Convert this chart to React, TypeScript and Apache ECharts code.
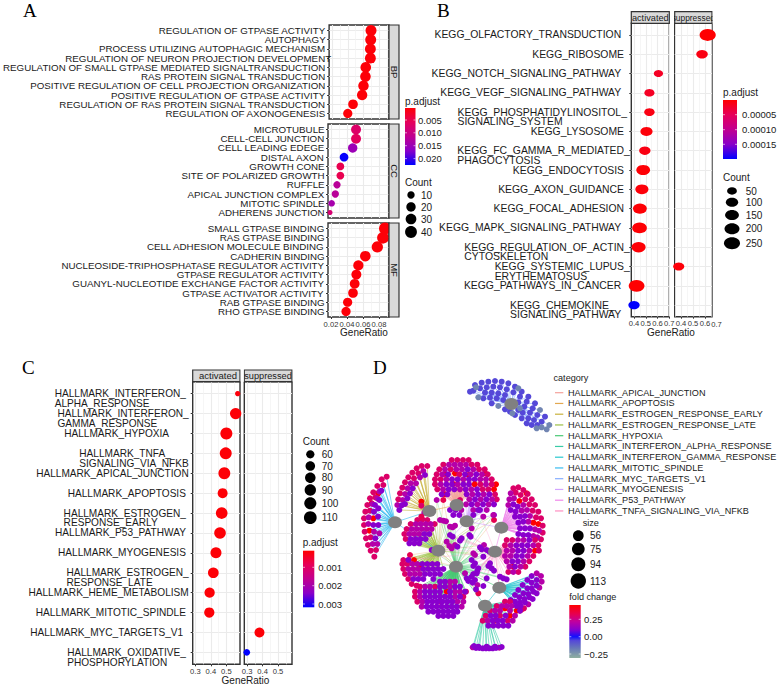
import React, { useEffect, useRef } from "react";
import * as echarts from "echarts";

// ---------- Panel A ----------
const aBpTerms = ["REGULATION OF GTPASE ACTIVITY  ","AUTOPHAGY  ","PROCESS UTILIZING AUTOPHAGIC MECHANISM  ","REGULATION OF NEURON PROJECTION DEVELOPMENT","REGULATION OF SMALL GTPASE MEDIATED SIGNALTRANSDUCTION  ","RAS PROTEIN SIGNAL TRANSDUCTION  ","POSITIVE REGULATION OF CELL PROJECTION ORGANIZATION  ","POSITIVE REGULATION OF GTPASE ACTIVITY  ","REGULATION OF RAS PROTEIN SIGNAL TRANSDUCTION  ","REGULATION OF AXONOGENESIS  "];
const aBpRatio = [0.0696,0.0692,0.0688,0.0688,0.0629,0.0625,0.06,0.0583,0.0467,0.04];
const aBpCount = [32,32,31,31,29,29,28,27,22,19];
const aBpPadj = [0.0005,0.0005,0.0005,0.0005,0.0005,0.0005,0.0005,0.0005,0.0005,0.0005];
const aCcTerms = ["MICROTUBULE  ","CELL-CELL JUNCTION  ","CELL LEADING EDEGE  ","DISTAL AXON  ","GROWTH CONE  ","SITE OF POLARIZED GROWTH  ","RUFFLE  ","APICAL JUNCTION COMPLEX  ","MITOTIC SPINDLE  ","ADHERENS JUNCTION  "];
const aCcRatio = [0.0513,0.0513,0.0471,0.0363,0.0317,0.0317,0.0275,0.0254,0.0208,0.0188];
const aCcCount = [24,24,20,16,12,12,10,10,8,6];
const aCcPadj = [0.007,0.006,0.015,0.0222,0.005,0.005,0.012,0.012,0.014,0.008];
const aMfTerms = ["SMALL GTPASE BINDING  ","RAS GTPASE BINDING  ","CELL ADHESION MOLECULE BINDING  ","CADHERIN BINDING  ","NUCLEOSIDE-TRIPHOSPHATASE REGULATOR ACTIVITY  ","GTPASE REGULATOR ACTIVITY  ","GUANYL-NUCLEOTIDE EXCHANGE FACTOR ACTIVITY  ","GTPASE ACTIVATOR ACTIVITY  ","RAB GTPASE BINDING  ","RHO GTPASE BINDING  "];
const aMfRatio = [0.0875,0.085,0.0779,0.0629,0.0542,0.0517,0.0496,0.0475,0.0408,0.0388];
const aMfCount = [42,40,35,29,26,24,23,22,19,19];
const aMfPadj = [0.0005,0.0005,0.0005,0.0005,0.0005,0.0005,0.0005,0.0005,0.0005,0.0005];

// ---------- Panel B ----------
const bTerms = ["KEGG_OLFACTORY_TRANSDUCTION   ","KEGG_RIBOSOME  ","KEGG_NOTCH_SIGNALING_PATHWAY   ","KEGG_VEGF_SIGNALING_PATHWAY   ","KEGG_PHOSPHATIDYLINOSITOL_ \nSIGNALING_SYSTEM","KEGG_LYSOSOME  ","KEGG_FC_GAMMA_R_MEDIATED_\nPHAGOCYTOSIS","KEGG_ENDOCYTOSIS  ","KEGG_AXON_GUIDANCE  ","KEGG_FOCAL_ADHESION  ","KEGG_MAPK_SIGNALING_PATHWAY   ","KEGG_REGULATION_OF_ACTIN_\nCYTOSKELETON","KEGG_SYSTEMIC_LUPUS_\nERYTHEMATOSUS","KEGG_PATHWAYS_IN_CANCER   ","KEGG_CHEMOKINE_\nSIGNALING_PATHWAY   "];
const bActivatedRows = [2,3,4,5,6,7,8,9,10,11,13,14];
const bActivatedRatio = [0.608,0.531,0.531,0.506,0.492,0.478,0.467,0.45,0.447,0.439,0.422,0.4];
const bActivatedCount = [45,55,60,95,75,150,125,150,185,160,240,75];
const bActivatedPadj = [0.00002,0.00002,0.00001,0.000005,0.00001,0.000003,0.000005,0.000003,0.000002,0.000003,0.000001,0.0002];
const bSuppressedRows = [0,1,12];
const bSuppressedRatio = [0.622,0.575,0.381];
const bSuppressedCount = [260,80,70];
const bSuppressedPadj = [0.000001,0.00001,0.000005];

// ---------- Panel C ----------
const cTerms = ["HALLMARK_INTERFERON_ \nALPHA_RESPONSE","HALLMARK_INTERFERON_\nGAMMA_RESPONSE","HALLMARK_HYPOXIA       ","HALLMARK_TNFA_\nSIGNALING_VIA_NFKB","HALLMARK_APICAL_JUNCTION","HALLMARK_APOPTOSIS ","HALLMARK_ESTROGEN_ \nRESPONSE_EARLY","HALLMARK_P53_PATHWAY ","HALLMARK_MYOGENESIS ","HALLMARK_ESTROGEN_\nRESPONSE_LATE","HALLMARK_HEME_METABOLISM","HALLMARK_MITOTIC_SPINDLE ","HALLMARK_MYC_TARGETS_V1  ","HALLMARK_OXIDATIVE_ \nPHOSPHORYLATION"];
const cActivatedRows = [0,1,2,3,4,5,6,7,8,9,10,11];
const cActivatedRatio = [0.573,0.56,0.5,0.496,0.487,0.476,0.47,0.459,0.433,0.416,0.392,0.39];
const cActivatedCount = [50,90,100,99,98,74,95,94,86,82,77,77];
const cActivatedPadj = [0.0001,0.00005,0.00005,0.00005,0.00005,0.00005,0.00005,0.00005,0.00005,0.00005,0.00005,0.00005];
const cSuppressedRows = [12,13];
const cSuppressedRatio = [0.38,0.298];
const cSuppressedCount = [74,52];
const cSuppressedPadj = [0.00005,0.00318];

// ---------- Panel D: network, layout coordinates ----------
const dCategories = ["HALLMARK_APICAL_JUNCTION","HALLMARK_APOPTOSIS","HALLMARK_ESTROGEN_RESPONSE_EARLY","HALLMARK_ESTROGEN_RESPONSE_LATE","HALLMARK_HYPOXIA","HALLMARK_INTERFERON_ALPHA_RESPONSE","HALLMARK_INTERFERON_GAMMA_RESPONSE","HALLMARK_MITOTIC_SPINDLE","HALLMARK_MYC_TARGETS_V1","HALLMARK_MYOGENESIS","HALLMARK_P53_PATHWAY","HALLMARK_TNFA_SIGNALING_VIA_NFKB"];
const dCategoryColors = ["#f4a29b","#e2a850","#c8b23c","#9cc044","#48c873","#38cba6","#28c8cf","#38bcf0","#85adff","#d2a4ff","#f088ea","#ff8fc2"];
const bandFc = [0.42,0.27,0.18,0.1];

const mycHub = [514,132];
const mycMain = [390,95,405,75,425,68,445,65,465,63,485,65,505,70,525,80,545,95,565,110,585,130,400,92,420,85,440,82,460,80,480,82,500,88,520,97,540,110,560,125,578,145,592,165,605,185,435,98,455,98,475,100,495,105,535,127,553,140,570,158,582,180,592,195,430,115,450,113,470,115,490,120,548,158,565,175,575,195,455,130,495,148,510,155,535,150,545,175,560,190,525,165,615,170];
const mycGrey = [408,82,415,112,475,138,517,160,535,85,600,150,628,195,620,208,605,202,540,145,590,205];

const mitoticHub = [165,487];
const mitoticNodes = [
  [115,400,95,430,100,475,88,512],
  [140,350,125,358,112,378,100,397,90,415,82,435,76,455,72,475,72,495,74,515,78,535,84,555,92,572,103,590,130,375,106,412,90,452,92,532,108,570],
  [118,395,97,432,86,472,85,492,98,552,112,552,102,515,112,415,118,520],
  [105,435,102,455,100,495,106,535,115,445,114,470,115,495,124,392,118,420],
];
const earlyHub = [268,453];
const earlyNodes = [
  [244,425],
  [262,318,245,318,230,325,217,338,205,352,195,367,187,383,180,400,175,418,235,340,222,355,244,437],
  [250,333,212,370,203,385,195,402,188,420,172,435,240,352,228,370,253,458],
  [178,450,185,436,255,345,218,385,210,400,202,415,195,432],
];
const lateHub = [295,572];
const lateNodes = [
  [240,622,222,600],
  [232,480,247,478,262,480,212,492,200,507,193,522,197,537,284,492,190,600,205,600,187,612,202,612,190,627,195,642,205,657,215,672,230,677],
  [227,492,242,492,257,492,272,492,215,507,230,507,245,507,260,507,275,507,208,522,223,522,238,522,217,612,232,612,205,627,220,627,235,627,210,642,225,642,240,642],
  [253,522,268,522,212,537,227,537,242,537,257,537,208,550,223,550,238,550,247,612,262,612,277,612,292,612,250,627,265,627,280,627,295,627,310,627,255,642,270,642,285,642,300,642,220,657,235,657,250,657,280,657],
];
const hypoxiaHub = [348,620];
const hypoxiaNodes = [
  [320,695],
  [240,680,225,695,225,710,232,725,370,710,285,680,300,725,378,695],
  [255,680,270,680,345,665,330,665,240,695,345,695,360,695,240,710,345,710,247,725,352,725,370,725,245,740,365,740,330,680],
  [300,665,315,665,300,680,315,680,345,680,360,680,255,695,270,695,285,695,300,695,330,695,375,695,255,710,270,710,285,710,300,710,315,710,330,710,360,710,262,725,277,725,292,725,307,725,322,725,337,725,260,740,275,740,290,740,305,740,320,740,335,740,350,740,265,755,280,755,295,755,310,755,325,755,340,755,352,755,295,768,310,768,325,768,340,768],
];
const apicalHub = [350,435];
const apicalNodes = [
  [315,342,345,340,385,345,435,340,340,372,315,403],
  [335,300,352,300,369,300,386,300,310,314,395,314,412,314,298,328,417,328,434,328,290,343,443,343,285,358,455,358,285,373,292,388,332,328,358,343,302,358],
  [327,314,344,314,361,314,378,314,315,328,349,328,366,328,400,328,307,343,392,343,426,343,319,358,370,358,421,358,438,358,302,373,353,373,309,388,360,388],
  [383,328,324,343,375,343,409,343,336,358,353,358,387,358,404,358,319,373,336,373,370,373,387,373,326,388,343,388,377,388,305,403,322,403,380,403],
];
const myoHub = [380,484];
const myoNodes = [
  [468,373,462,388,404,373],
  [421,373,455,373,445,388,465,403,470,418,360,420,428,388],
  [438,373,394,388,397,403,431,403,388,418,422,418,456,418,378,433,412,433,446,433,364,450,400,450,440,450],
  [411,388,414,403,448,403,405,418,439,418,395,433,429,433,462,433,347,450,330,450,420,450,340,465,358,465,400,465,462,465],
];
const p53Hub = [484,503];
const p53Nodes = [
  [538,423,580,488,560,400,595,492],
  [520,385,535,382,550,390,563,402,575,418,585,435,595,455,603,475,608,497,608,518,603,538,527,398,542,405,556,418,568,433,578,452,588,472],
  [512,400,597,512,592,532,508,418,522,415,550,435,561,450,570,468,585,508,580,528,505,435,545,452,565,485],
  [520,433,533,440,555,468,570,505,565,525,512,450,527,455,540,470,550,485,555,505,550,525,525,470,535,488,540,505,535,522],
];
const tnfaHub = [465,575];
const tnfaNodes = [
  [585,572,520,620],
  [500,540,517,540,585,540,595,556,597,572,580,588,568,604,556,620,535,636,495,556,505,636],
  [534,540,551,540,512,556,580,556,500,572,517,572,568,572,495,588,512,588,563,588,500,604,551,604,508,620,542,620,520,636],
  [568,540,529,556,546,556,563,556,534,572,551,572,529,588,546,588,517,604,534,604,525,620],
];
const gammaHub = [478,683];
const gammaNodes = [
  [545,748],
  [540,752,552,745],
  [590,640,603,648,605,665,598,683,565,733],
  [590,700,578,717,575,648,590,660,590,677,580,695,568,712,555,727,542,738,562,660,575,668,575,685,565,702,553,717,540,728,548,675,562,685,550,700,538,712,525,725,535,690,525,705,512,720],
];
const alphaHub = [435,737];
const alphaNodes = [
  [495,745,510,767,465,782,530,752],
  [495,725,510,725,470,738,428,782,437,767,450,752,480,767,503,782],
  [485,738,500,738,515,738,465,752,480,752,510,752,525,767,443,782,518,782,398,862,478,863],
  [530,738,540,752,452,767,467,767,497,767,458,782,473,782,488,782,445,797,460,797,475,797,490,797,505,797,408,864,418,864,428,865,438,865,448,865,458,865,468,864,485,861,402,858,415,860,440,860,465,860],
];
const centerOrange = [244,470,310,420,462,480,415,700,210,585];
const centerGreen = [300,480,310,482,290,420,330,500,345,497,345,555,335,565,395,505,430,470,460,465,400,580,432,555,412,675,375,640,320,545,318,484,338,502,328,558,405,585];
const centerPink = [330,525,352,560,365,535,388,525,415,450,395,600,420,562,440,570,430,590,405,610,415,625,410,640,395,650,405,660,430,678,380,655,455,625,450,610,490,655,480,650,440,655,275,570,205,600,400,618,412,632,400,642,398,668,408,688,385,663,462,632,445,618,500,658,338,530,360,542,425,568,448,575,392,530];

const sizeLegendD = [56,75,94,113];
const sizeLegendDiam = [10.7,12.7,14,15.3];

// ---------- Legends ----------
const aCountLegend = [10,20,30,40];
const bCountLegend = [50,100,150,200,250];
const cCountLegend = [60,70,80,90,100,110];

const ink = "#1a1a1a";
const sans = "'Liberation Sans', Arimo, Helvetica, Arial, sans-serif";
const rampStops = [[0,[255,0,0]],[0.25,[230,0,90]],[0.5,[193,0,144]],[0.75,[138,0,200]],[1,[0,0,255]]] as [number,number[]][];
const mix = (stops:[number,number[]][], t:number) => {
  const u = Math.max(stops[0][0], Math.min(stops[stops.length-1][0], t));
  for (let i=1;i<stops.length;i++) {
    if (u<=stops[i][0]) {
      const f=(u-stops[i-1][0])/(stops[i][0]-stops[i-1][0]);
      const a=stops[i-1][1], b=stops[i][1];
      return `rgb(${a.map((v,k)=>Math.round(v+(b[k]-v)*f)).join(",")})`;
    }
  }
  return "#000";
};
const fcStops = [[-0.28,[143,176,160]],[-0.15,[104,120,184]],[-0.05,[85,72,216]],[0,[16,16,255]],[0.1,[138,0,205]],[0.2,[192,0,160]],[0.3,[230,0,80]],[0.42,[255,0,0]]] as [number,number[]][];
const fcColor = (v:number)=>mix(fcStops,v);
const sizeScale = (cmin:number,cmax:number,dmin:number,dmax:number)=>(c:number)=>dmin+(dmax-dmin)*Math.sqrt(Math.max(0,(c-cmin)/(cmax-cmin)));

function App() {
  const ref = useRef<HTMLDivElement>(null);
  useEffect(() => {
    document.body.style.margin = "0";
    const chart = echarts.init(ref.current!, undefined, { renderer: "svg" });
    const grids:any[]=[], xAxes:any[]=[], yAxes:any[]=[], series:any[]=[], gfx:any[]=[];

    const addPanel = (p:any) => {
      const gi = grids.length;
      grids.push({ left:p.l, top:p.t, width:p.r-p.l, height:p.b-p.t, show:true, backgroundColor:"#fff", borderColor:"#333", borderWidth:1.4, containLabel:false });
      const labelFn = (v:number)=>v.toFixed(p.dec);
      const showX = p.showX!==false;
      const mainIdx = xAxes.length;
      xAxes.push({ gridIndex:gi, type:"value", min:p.xmin, max:p.xmax, position:"bottom",
        axisLine:{show:false,onZero:false}, axisTick:{show:showX,length:2,lineStyle:{color:"#333",width:1},customValues:p.major},
        axisLabel:{show:showX,customValues:p.major,formatter:labelFn,fontFamily:sans,fontSize:7.6,color:"#333",margin:3,hideOverlap:false,showMinLabel:true,showMaxLabel:true},
        splitLine:{show:true,lineStyle:{color:"#ebebeb",width:1.1}} });
      xAxes.push({ gridIndex:gi, type:"value", min:p.xmin, max:p.xmax, position:"top",
        axisLine:{show:false,onZero:false}, axisTick:{show:false,customValues:p.minor}, axisLabel:{show:false},
        splitLine:{show:true,lineStyle:{color:"#f2f2f2",width:0.7}} });
      const n=p.n;
      const fs=p.fontSize;
      const lh=p.lineH;
      const rowsAll=Array.from({length:n},(_,i)=>i);
      // Two empty placeholder labels at each end keep the axis's min/max overlap check off the real rows.
      const labelValues=[-0.58,-0.56,...rowsAll,n-0.44,n-0.42];
      yAxes.push({ gridIndex:gi, type:"value", inverse:true, min:-0.6, max:n-0.4,
        axisLine:{show:false,onZero:false},
        axisTick:{show:!!p.terms,length:2,lineStyle:{color:"#333"},customValues:rowsAll},
        axisLabel:{show:!!p.terms,customValues:labelValues,margin:p.margin,align:"right",verticalAlign:"middle",hideOverlap:false,
          fontFamily:sans,fontSize:fs,lineHeight:lh,color:ink,
          rich:{l:{align:"left",fontFamily:sans,fontSize:fs,lineHeight:lh,color:ink}},
          formatter:(v:number)=>{
            if(!Number.isInteger(v)) return " ";
            const t=String(p.terms?.[v]??"");
            const lines=t.split("\n");
            if(lines.length===1) return `{l|${t}}`;
            return ["\u00a0",...lines].map(s=>`{l|${s}}`).join("\n");
          }},
        splitLine:{show:true,lineStyle:{color:"#ebebeb",width:1.1}} });
      const size=p.size;
      series.push({ type:"scatter", xAxisIndex:mainIdx, yAxisIndex:gi, clip:true, z:3,
        data:p.rows.map((r:number,i:number)=>[p.ratio[i],r,p.padj[i],p.count[i]]),
        symbol:"circle",
        symbolSize:(val:number[])=>{const d=size(val[3]);return p.stretch?[d*p.stretch,d]:d;},
        itemStyle:{color:(q:any)=>mix(rampStops,q.value[2]/p.padjMax),opacity:1} });
    };

    // helpers for graphic elements
    const txt=(text:string,x:number,y:number,o:any={})=>gfx.push({type:"text",x,y,silent:true,rotation:o.rotation||0,z:o.z||5,style:{text,fontFamily:o.family||sans,fontSize:o.size||10,fill:o.fill||ink,align:o.align||"left",verticalAlign:"middle"}});
    const rect=(x:number,y:number,w:number,h:number,fill:any,o:any={})=>gfx.push({type:"rect",silent:true,z:o.z||4,shape:{x,y,width:w,height:h},style:{fill,stroke:o.stroke||null,lineWidth:o.lw||0}});
    const seg=(x1:number,y1:number,x2:number,y2:number,stroke:string,w=1)=>gfx.push({type:"line",silent:true,z:6,shape:{x1,y1,x2,y2},style:{stroke,lineWidth:w}});
    const gradient=(stops:any[])=>new echarts.graphic.LinearGradient(0,0,0,1,stops);
    const rampGrad=(t0:number,t1:number)=>gradient([0,0.25,0.5,0.75,1].map(o=>({offset:o,color:mix(rampStops,t0+(t1-t0)*o)})));
    const bar=(x:number,y:number,w:number,h:number,fill:any,ticks:[string,number][],labelX:number)=>{
      rect(x,y,w,h,fill);
      ticks.forEach(([s,ty])=>{ seg(x,ty,x+2,ty,"#fff",0.6); seg(x+w-2,ty,x+w,ty,"#fff",0.6); txt(s,labelX,ty,{size:9.5}); });
    };
    const strip=(x:number,y:number,w:number,h:number)=>rect(x,y,w,h,"#d9d9d9",{stroke:"#333",lw:1.2});
    const dots=(x:number,items:[string|number,number,number,number?][],labelX:number)=>items.forEach(([s,y,d,w])=>{
      gfx.push({type:"ellipse",silent:true,z:5,shape:{cx:x,cy:y,rx:(w||d)/2,ry:d/2},style:{fill:"#000"}});
      txt(String(s),labelX,y,{size:10});
    });

    // ---- A ----
    const aSize=sizeScale(6,42,5,12);
    const aX={l:328,r:389,xmin:0.01625,xmax:0.0925,major:[0.02,0.04,0.06,0.08],minor:[0.03,0.05,0.07,0.09],dec:2,n:10,padjMax:0.0224,size:aSize,fontSize:9.75,lineH:10,margin:-2};
    addPanel({...aX,showX:false,t:25,b:119,terms:aBpTerms,rows:aBpTerms.map((_,i)=>i),ratio:aBpRatio,count:aBpCount,padj:aBpPadj});
    addPanel({...aX,showX:false,t:124,b:218,terms:aCcTerms,rows:aCcTerms.map((_,i)=>i),ratio:aCcRatio,count:aCcCount,padj:aCcPadj});
    addPanel({...aX,t:223,b:317,terms:aMfTerms,rows:aMfTerms.map((_,i)=>i),ratio:aMfRatio,count:aMfCount,padj:aMfPadj});
    [[25,119,"BP"],[124,218,"CC"],[223,317,"MF"]].forEach(([t,b,s]:any)=>{
      strip(389,t,10,b-t);
      txt(s,394,(t+b)/2,{rotation:-Math.PI/2,align:"center",size:9.5});
    });
    txt("GeneRatio",364,332,{align:"center",size:10});
    txt("p.adjust",405,101,{size:10});
    bar(405,108,10.5,57,rampGrad(0.015,1),[["0.005",120],["0.010",132.8],["0.015",145.7],["0.020",158.6]],418);
    txt("Count",405,182,{size:10});
    dots(411,aCountLegend.map((c,i)=>[c,[195,207,219,232][i],aSize(c)] as any),421);
    txt("A",23,10,{family:"'Liberation Serif',serif",size:19,fill:"#000"});

    // ---- B ----
    const bSize=sizeScale(40,260,6,12);
    const bBase={t:23.3,b:316.7,n:15,dec:1,padjMax:0.0002,size:bSize,stretch:1.35,fontSize:10.4,lineH:9.7,margin:1.5};
    addPanel({...bBase,l:631.3,r:669.3,xmin:0.377,xmax:0.7,major:[0.4,0.5,0.6,0.7],minor:[0.45,0.55,0.65],terms:bTerms,rows:bActivatedRows,ratio:bActivatedRatio,count:bActivatedCount,padj:bActivatedPadj});
    addPanel({...bBase,l:674.7,r:712,xmin:0.3475,xmax:0.658,major:[0.4,0.5,0.6],minor:[0.35,0.45,0.55,0.65],rows:bSuppressedRows,ratio:bSuppressedRatio,count:bSuppressedCount,padj:bSuppressedPadj});
    strip(631.3,11.7,38,11.6); strip(674.7,11.7,37.3,11.6);
    txt("activated",650.3,17.7,{align:"center",size:9.2});
    txt("suppressed",693.3,17.7,{align:"center",size:8.4});
    rect(670,11,4,13,"#fff",{z:6}); rect(712.7,11,8,13,"#fff",{z:6});
    txt("0.7",716.5,324.5,{align:"center",size:7.6,fill:"#333"});
    txt("GeneRatio",671,332,{align:"center",size:10});
    txt("p.adjust",723,92,{size:10});
    bar(723,100,14,59,rampGrad(0,1),[["0.00005",114.7],["0.00010",129.7],["0.00015",144.3]],742);
    txt("Count",723,177.7,{size:10});
    dots(732,bCountLegend.map((c,i)=>[c,[191,202.3,215,228.7,243.3][i],bSize(c),bSize(c)*1.35] as any),745.7);
    txt("B",437,10,{family:"'Liberation Serif',serif",size:19,fill:"#000"});

    // ---- C ----
    const cSize=sizeScale(50,112,5.3,12.8);
    const cBase={t:381.7,b:664.3,n:14,dec:1,padjMax:0.00318,size:cSize,fontSize:10.1,lineH:9.9,margin:4};
    addPanel({...cBase,l:192.7,r:240,xmin:0.283,xmax:0.588,major:[0.3,0.4,0.5],minor:[0.35,0.45,0.55],terms:cTerms,rows:cActivatedRows,ratio:cActivatedRatio,count:cActivatedCount,padj:cActivatedPadj});
    addPanel({...cBase,l:244.3,r:292,xmin:0.282,xmax:0.59,major:[0.3,0.4,0.5],minor:[0.35,0.45,0.55],rows:cSuppressedRows,ratio:cSuppressedRatio,count:cSuppressedCount,padj:cSuppressedPadj});
    strip(192.7,370,47.3,11.7); strip(244.3,370,47.7,11.7);
    txt("activated",218,375.8,{align:"center",size:9.5});
    txt("suppressed",268,375.8,{align:"center",size:9.2});
    rect(240.7,369,3,13,"#fff",{z:6}); rect(292.7,369,6,13,"#fff",{z:6});
    txt("GeneRatio",245.5,680,{align:"center",size:10});
    txt("Count",302.7,441.7,{size:10});
    dots(310.3,cCountLegend.map((c,i)=>[c,[454.3,466,477.7,490,503.3,517.7][i],cSize(c)] as any),321.7);
    txt("p.adjust",302.7,542.7,{size:10});
    bar(303,550.7,11.3,56.6,rampGrad(0,1),[["0.001",567.3],["0.002",585.7],["0.003",604]],318.3);
    txt("C",22,367.7,{family:"'Liberation Serif',serif",size:19,fill:"#000"});

    // ---- D ----
    const nodes:any[]=[], links:any[]=[], hubs:any[]=[];
    const addNodes=(flat:number[],fc:number,targets:[any,number][],w=0.7,op=0.85)=>{
      for(let i=0;i+1<flat.length;i+=2){
        const id=nodes.length;
        nodes.push({name:"n"+id,value:[flat[i],flat[i+1]],symbolSize:6,itemStyle:{color:fcColor(fc)}});
        targets.forEach(([h,cat])=>links.push({source:id,hub:h,lineStyle:{color:dCategoryColors[cat],width:w,opacity:op}}));
      }
    };
    const hub=(p:number[])=>{const h:any={p};hubs.push(h);return h;};
    const hMyc=hub(mycHub),hMit=hub(mitoticHub),hEarly=hub(earlyHub),hLate=hub(lateHub),hHyp=hub(hypoxiaHub),hApi=hub(apicalHub),hMyo=hub(myoHub),hP53=hub(p53Hub),hTnf=hub(tnfaHub),hGam=hub(gammaHub),hAlp=hub(alphaHub);
    addNodes(mycMain,-0.05,[[hMyc,8]]); addNodes(mycGrey,-0.18,[[hMyc,8]]);
    const band=(arr:number[][],cat:number,h:any)=>arr.forEach((f,i)=>addNodes(f,bandFc[i],[[h,cat]]));
    band(mitoticNodes,7,hMit); band(earlyNodes,2,hEarly); band(lateNodes,3,hLate);
    band(hypoxiaNodes,4,hHyp); band(apicalNodes,0,hApi); band(myoNodes,9,hMyo);
    band(p53Nodes,10,hP53); band(tnfaNodes,11,hTnf); band(gammaNodes,6,hGam); band(alphaNodes,5,hAlp);
    addNodes(centerOrange,0.3,[[hHyp,1],[hLate,1]],0.5,0.6);
    addNodes(centerGreen,0.18,[[hHyp,4],[hLate,3]],0.5,0.6);
    addNodes(centerPink,0.1,[[hHyp,4],[hTnf,11]],0.5,0.6);
    hubs.forEach(h=>{ h.id=nodes.length; nodes.push({name:"h"+h.id,value:h.p,symbol:"circle",symbolSize:[14,12],itemStyle:{color:"#808080"}}); });
    const edges=links.map(l=>({source:l.source,target:l.hub.id,lineStyle:l.lineStyle}));
    const crossEdges:[any,any,number][]=[[hMit,hEarly,7],[hMit,hLate,7],[hEarly,hApi,1],[hApi,hMyo,0],[hMyo,hP53,9],[hMyo,hLate,9],[hP53,hTnf,10],[hTnf,hGam,11],[hGam,hAlp,6],[hHyp,hAlp,5],[hHyp,hGam,4]];
    crossEdges.forEach(([a,b,c])=>edges.push({source:a.id,target:b.id,lineStyle:{color:dCategoryColors[c],width:0.8,opacity:0.75}}));
    const gi=grids.length;
    grids.push({left:340,top:360,width:220,height:324,show:false});
    xAxes.push({gridIndex:gi,type:"value",min:0,max:660,show:false});
    yAxes.push({gridIndex:gi,type:"value",min:0,max:972,inverse:true,show:false});
    series.push({type:"graph",coordinateSystem:"cartesian2d",xAxisIndex:xAxes.length-1,yAxisIndex:gi,layout:"none",silent:true,roam:false,z:3,label:{show:false},data:nodes,links:edges,edgeSymbol:["none","none"]});

    txt("category",553.5,377.7,{size:9.1});
    dCategories.forEach((c,i)=>{
      const y=392.7+i*10.75;
      seg(555,y,563.3,y,dCategoryColors[i],1.2);
      txt(c,568,y,{size:9.1});
    });
    txt("size",582.7,522.7,{size:9.1});
    dots(578.3,sizeLegendD.map((c,i)=>[c,[535.7,549,564.3,581][i],sizeLegendDiam[i]] as any),590);
    txt("fold change",569.3,597.3,{size:9.1});
    const fcGrad=gradient([0.42,0.3,0.2,0.1,0,-0.05,-0.15,-0.28].map(v=>({offset:(0.42-v)/0.7,color:fcColor(v)})));
    bar(569.3,605,11.4,53,fcGrad,[["0.25",619.3],["0.00",636.7],["\u22120.25",654]],584);
    txt("D",373,367,{family:"'Liberation Serif',serif",size:19,fill:"#000"});

    chart.setOption({animation:false,backgroundColor:"#fff",grid:grids,xAxis:xAxes,yAxis:yAxes,series,graphic:{elements:gfx}});
    return ()=>chart.dispose();
  },[]);
  return <div ref={ref} style={{position:"absolute",left:0,top:0,width:780,height:684}}/>;
}
export default App;
